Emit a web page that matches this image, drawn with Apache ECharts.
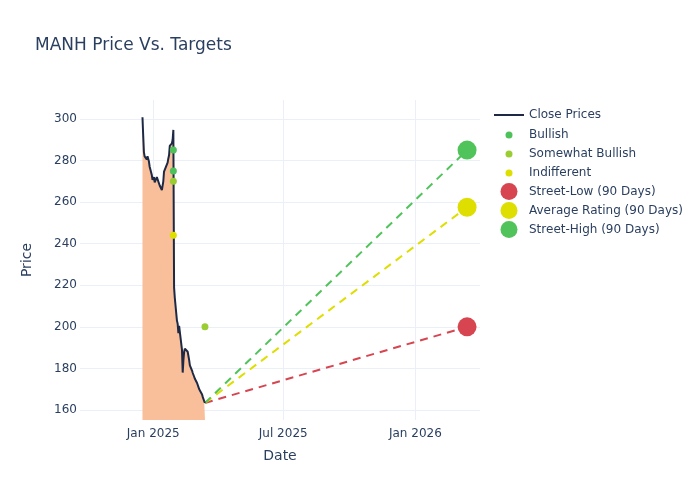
<!DOCTYPE html>
<html>
<head>
<meta charset="utf-8">
<script src="https://cdn.jsdelivr.net/npm/echarts@6/dist/echarts.min.js"></script>
<style>html,body{margin:0;padding:0;background:#fff}#c{width:700px;height:500px}</style>
</head>
<body>
<div id="c"></div>
<script>
const closeDates = [
  '2024-12-17','2024-12-18','2024-12-19','2024-12-20','2024-12-23','2024-12-24','2024-12-26','2024-12-27','2024-12-30','2024-12-31',
  '2025-01-02','2025-01-03','2025-01-06','2025-01-07','2025-01-08','2025-01-10','2025-01-13','2025-01-14','2025-01-15','2025-01-16',
  '2025-01-17','2025-01-21','2025-01-22','2025-01-23','2025-01-24','2025-01-27','2025-01-28','2025-01-29','2025-01-30','2025-01-31',
  '2025-02-03','2025-02-04','2025-02-05','2025-02-06','2025-02-07','2025-02-10','2025-02-11','2025-02-12','2025-02-13','2025-02-14',
  '2025-02-18','2025-02-19','2025-02-20','2025-02-21','2025-02-24','2025-02-25','2025-02-26','2025-02-27','2025-02-28',
  '2025-03-03','2025-03-04','2025-03-05','2025-03-06','2025-03-07','2025-03-10','2025-03-11','2025-03-12','2025-03-13','2025-03-14'
];
const closePrices = [
  300.8, 292.0, 284.0, 282.0, 280.5, 282.0, 279.5, 277.0, 273.0, 270.7,
  272.0, 269.5, 272.0, 271.5, 271.5, 268.0, 265.8, 265.8, 270.0, 274.7,
  275.3, 279.0, 281.0, 282.5, 287.0, 288.3, 290.0, 294.7, 219.0, 214.0,
  203.0, 201.5, 197.0, 200.5, 200.0, 189.0, 178.0, 184.0, 188.0, 189.5,
  188.0, 186.0, 184.0, 181.5, 179.0, 177.8, 177.0, 176.0, 175.0,
  173.0, 172.3, 171.0, 170.0, 169.2, 167.5, 166.2, 165.5, 164.2, 163.4
];
const bullishDates = ['2025-01-29','2025-01-29'];
const bullishValues = [285, 275];
const somewhatBullishDates = ['2025-01-29','2025-03-14'];
const somewhatBullishValues = [270, 200];
const indifferentDates = ['2025-01-29'];
const indifferentValues = [244];
const targetDate = '2026-03-14';
const streetLow = 200;
const averageRating = 257.5;
const streetHigh = 285;
const yTicks = [160, 180, 200, 220, 240, 260, 280, 300];
const xTickDates = ['2025-01-01', '2025-07-01', '2026-01-01'];

function ts(s) { const p = s.split('-').map(Number); return new Date(p[0], p[1] - 1, p[2]).getTime(); }
const MONTHS = ['Jan','Feb','Mar','Apr','May','Jun','Jul','Aug','Sep','Oct','Nov','Dec'];
const zip = (d, v) => d.map((x, i) => [ts(x), v[i]]);

const lastDate = closeDates[closeDates.length - 1];
const lastPrice = closePrices[closePrices.length - 1];

const FONT = 'DejaVu Sans';
const TXT = '#2a3f5f';
const GRID = '#ebf0f8';
const C_LINE = '#1e2a45';
const C_FILL = '#f9be9a';
const C_BULL = '#4fc15a';
const C_SBULL = '#9acd32';
const C_IND = '#dede00';
const C_LOW = '#d64550';
const C_AVG = '#dede00';
const C_HIGH = '#50c35a';

const chart = echarts.init(document.getElementById('c'), null, { renderer: 'canvas' });
const legendText = (pad) => ({ color: TXT, fontSize: 12, fontFamily: FONT, padding: [0, 0, 0, pad] });
chart.setOption({
  backgroundColor: '#fff',
  animation: false,
  textStyle: { fontFamily: FONT },
  title: {
    text: 'MANH Price Vs. Targets', left: 30, top: 32,
    textStyle: { color: TXT, fontSize: 17, fontWeight: 'normal', fontFamily: FONT }
  },
  grid: { left: 80, right: 220, top: 100, bottom: 80, containLabel: false },
  legend: [
    { orient: 'vertical', left: 494, top: 109, padding: 0, itemWidth: 30, itemHeight: 2, itemGap: 5,
      textStyle: legendText(0), data: [{ name: 'Close Prices', icon: 'rect' }], selectedMode: false },
    { orient: 'vertical', left: 505.5, top: 129, padding: 0, itemWidth: 7, itemHeight: 7, itemGap: 7,
      textStyle: legendText(11.5), data: ['Bullish', 'Somewhat Bullish', 'Indifferent'], selectedMode: false },
    { orient: 'vertical', left: 500.5, top: 183, padding: 0, itemWidth: 17, itemHeight: 17, itemGap: 2,
      textStyle: legendText(6.5), data: ['Street-Low (90 Days)', 'Average Rating (90 Days)', 'Street-High (90 Days)'], selectedMode: false }
  ],
  xAxis: {
    type: 'value',
    min: ts('2024-09-21'), max: ts('2026-04-01'),
    name: 'Date', nameLocation: 'middle', nameGap: 29,
    nameTextStyle: { color: TXT, fontSize: 14, fontFamily: FONT },
    axisLine: { show: false },
    axisTick: { show: false, customValues: xTickDates.map(ts) },
    axisLabel: {
      customValues: xTickDates.map(ts), color: TXT, fontSize: 12, fontFamily: FONT, margin: 8,
      formatter: v => { const d = new Date(v); return MONTHS[d.getMonth()] + ' ' + d.getFullYear(); }
    },
    splitLine: { show: true, lineStyle: { color: GRID, width: 1 } }
  },
  yAxis: {
    type: 'value', min: 155.2, max: 309.1,
    name: 'Price', nameLocation: 'middle', nameGap: 46,
    nameTextStyle: { color: TXT, fontSize: 14, fontFamily: FONT },
    axisLine: { show: false },
    axisTick: { show: false, customValues: yTicks },
    axisLabel: { customValues: yTicks, color: TXT, fontSize: 12, fontFamily: FONT, margin: 3 },
    splitLine: { show: true, lineStyle: { color: GRID, width: 1 } }
  },
  series: [
    { name: 'Close Prices', type: 'line', data: zip(closeDates, closePrices), symbol: 'none',
      lineStyle: { color: C_LINE, width: 2 }, itemStyle: { color: C_LINE },
      areaStyle: { color: C_FILL, opacity: 1, origin: 'start' }, z: 3 },
    { name: 'lowLine', type: 'line', data: [[ts(lastDate), lastPrice], [ts(targetDate), streetLow]], symbol: 'none',
      lineStyle: { color: C_LOW, width: 2, type: [8, 6] }, z: 2 },
    { name: 'avgLine', type: 'line', data: [[ts(lastDate), lastPrice], [ts(targetDate), averageRating]], symbol: 'none',
      lineStyle: { color: C_AVG, width: 2, type: [8, 6] }, z: 2 },
    { name: 'highLine', type: 'line', data: [[ts(lastDate), lastPrice], [ts(targetDate), streetHigh]], symbol: 'none',
      lineStyle: { color: C_HIGH, width: 2, type: [8, 6] }, z: 2 },
    { name: 'Bullish', type: 'scatter', data: zip(bullishDates, bullishValues), symbolSize: 7,
      itemStyle: { color: C_BULL, opacity: 1 }, z: 5 },
    { name: 'Somewhat Bullish', type: 'scatter', data: zip(somewhatBullishDates, somewhatBullishValues), symbolSize: 7,
      itemStyle: { color: C_SBULL, opacity: 1 }, z: 5 },
    { name: 'Indifferent', type: 'scatter', data: zip(indifferentDates, indifferentValues), symbolSize: 7,
      itemStyle: { color: C_IND, opacity: 1 }, z: 5 },
    { name: 'Street-Low (90 Days)', type: 'scatter', data: [[ts(targetDate), streetLow]], symbolSize: 19,
      itemStyle: { color: C_LOW, opacity: 1 }, z: 6 },
    { name: 'Average Rating (90 Days)', type: 'scatter', data: [[ts(targetDate), averageRating]], symbolSize: 19,
      itemStyle: { color: C_AVG, opacity: 1 }, z: 6 },
    { name: 'Street-High (90 Days)', type: 'scatter', data: [[ts(targetDate), streetHigh]], symbolSize: 19,
      itemStyle: { color: C_HIGH, opacity: 1 }, z: 6 }
  ]
});
</script>
</body>
</html>
